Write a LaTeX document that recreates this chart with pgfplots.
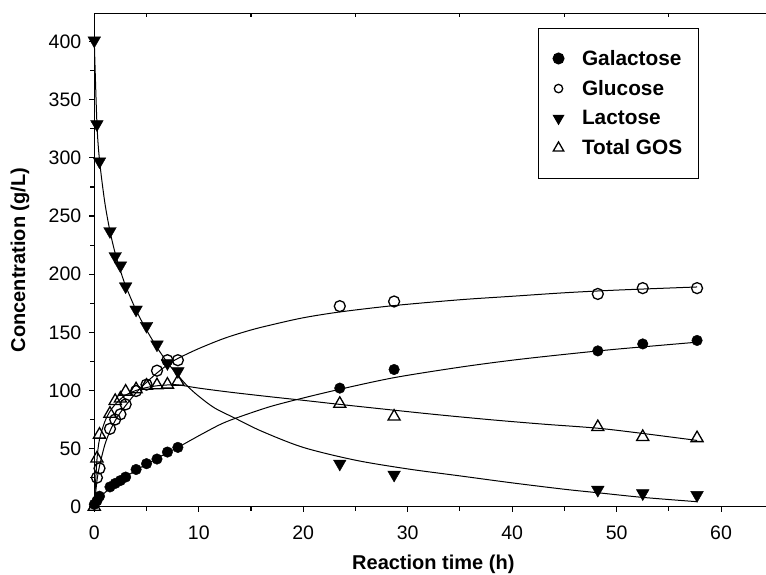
\documentclass[border=0pt]{standalone}
\usepackage{fontspec}
\setmainfont{Liberation Sans}
\usepackage{pgfplots}
\pgfplotsset{compat=1.18}
\newcommand\tickfont{\fontsize{19.5}{22}\selectfont}
\newcommand\labfont{\fontsize{20}{23}\selectfont\bfseries}
\newcommand\legfont{\fontsize{20.8}{23}\selectfont\bfseries}
\begin{document}
\begin{tikzpicture}
\begin{axis}[
  at={(94.3pt,68.3pt)}, anchor=south west,
  scale only axis, width=671.7pt, height=493.4pt,
  xmin=0, xmax=64.3, ymin=0, ymax=424.4,
  axis x line*=bottom, axis y line*=left,
  axis line style={-, line width=1.2pt, black},
  clip=false,
  xtick={0,10,...,60}, minor xtick={5,15,...,55},
  ytick={0,50,...,400}, minor ytick={25,75,...,375},
  tick align=outside, major tick length=5pt, minor tick length=4pt,
  every tick/.style={line width=1.1pt, black},
  /pgf/number format/assume math mode=true,
  tick label style={font=\tickfont},
  xticklabel style={yshift=-11pt},
  yticklabel style={xshift=-4.5pt},
  xlabel={Reaction time (h)}, ylabel={Concentration (g/L)},
  label style={font=\labfont},
  xlabel style={at={(axis description cs:0.5047,-0.1283)}, anchor=base},
  ylabel style={at={(axis description cs:-0.1106,0.5)}, anchor=center},
  legend style={at={(0.6606,0.9708)}, anchor=north west, draw=black, line width=1pt,
     font=\legfont, row sep=9.5pt, inner xsep=14.5pt, inner ysep=20pt, cells={anchor=west},
     /tikz/every odd column/.style={column sep=16pt}},
  legend cell align=left,
]
% fitted curves
\addplot[black, line width=1pt, smooth, forget plot] coordinates {
 (0,400)(0.25,330)(0.5,298)(1,262)(1.5,237)(2,218)(2.5,203)(3,190)(4,169)(5,152)(6,137)(7,124)(8,113)(9,103)(10,95)(11.5,85)(13.5,76)(16,65)(20,51)(25,40)(30,32.5)(35,26.5)(40,20.5)(45,15)(48.2,12)(52.5,8)(57.7,4.3)};
\addplot[black, line width=1pt, smooth, forget plot] coordinates {
 (0,0)(0.25,22)(0.5,35)(1,53)(1.5,65)(2,74)(2.5,81)(3,87)(4,98)(5,107)(6,115)(7,122)(8,127.5)(10,136)(12.5,145)(15,152)(17,156.5)(20,162.5)(23.5,167.5)(28.7,173)(35,178)(40,181)(45,184)(50,186.3)(57.7,189)};
\addplot[black, line width=1pt, smooth, forget plot] coordinates {
 (0,0)(0.25,4)(0.5,7.5)(1,12)(1.5,16)(2,19.5)(3,25.5)(4,31.5)(5,36.5)(6,41.5)(7,46.5)(8,51)(10,61)(12,70.5)(13.5,76)(16.8,86)(20,93.5)(23.5,101)(28.7,111)(35,120)(40,126)(45,131)(50,135.5)(57.7,141.5)};
\addplot[black, line width=1pt, smooth, forget plot] coordinates {
 (0,0)(0.25,40)(0.5,58)(1,73)(1.5,82)(2,88)(2.5,92.5)(3,96)(4,100)(5,102.5)(6,104)(7,104.7)(8,104.8)(10,102)(13,98.5)(16.8,94.6)(20,91.5)(23.5,88)(28.7,83)(33,79)(38.2,74.6)(43,71)(48.2,67.5)(52.5,63)(57.7,57)};
% data
\addplot[only marks, mark=*, mark size=5.3pt, mark options={fill=black, draw=black}, forget plot] coordinates {
 (0,2)(0.25,5)(0.5,9)(1.5,17)(2,20)(2.5,22.5)(3,25.5)(4,32)(5,37)(6,41)(7,47)(8,51)(23.5,102)(28.7,118)(48.2,134)(52.5,140)(57.7,143)};
\addplot[only marks, mark=o, mark size=5.5pt, mark options={fill=white, draw=black, line width=1.3pt}, forget plot] coordinates {
 (0.25,25)(0.5,33)(1.5,67)(2,75)(2.5,79.5)(3,88)(4,99.5)(5,105)(6,117)(7,126)(8,126)(23.5,172.5)(28.7,176.5)(48.2,183)(52.5,188)(57.7,188)};
\addplot[only marks, mark=triangle*, mark size=7.3pt, mark options={rotate=180, fill=black, draw=black}, forget plot] coordinates {
 (0,401)(0.25,329)(0.5,297)(1.5,237)(2,215.5)(2.5,207.5)(3,189.5)(4,169.5)(5,155.5)(6,139.5)(7,123.5)(8,116.5)(23.5,37)(28.7,27.5)(48.2,14.5)(52.5,11.5)(57.7,10)};
\addplot[only marks, mark=triangle, mark size=7pt, mark options={fill=white, draw=black, line width=1.3pt}, forget plot] coordinates {
 (0,0)(0.25,41.5)(0.5,62)(1.5,80)(2,91)(2.5,93)(3,99)(4,101)(5,104)(6,104.5)(7,105)(8,107.5)(23.5,88.5)(28.7,77.5)(48.2,68.5)(52.5,60)(57.7,59)};
\addlegendimage{only marks, mark=*, mark size=5.5pt, fill=black, draw=black}
\addlegendentry{Galactose}
\addlegendimage{only marks, mark=o, mark size=4.2pt, draw=black, line width=1.3pt}
\addlegendentry{Glucose}
\addlegendimage{only marks, mark=triangle*, mark size=6pt, mark options={rotate=180}, fill=black, draw=black}
\addlegendentry{Lactose}
\addlegendimage{only marks, mark=triangle, mark size=6pt, draw=black, line width=1.3pt}
\addlegendentry{Total GOS}
\end{axis}
\begin{axis}[
  at={(94.3pt,68.3pt)}, anchor=south west,
  scale only axis, width=671.7pt, height=493.4pt,
  xmin=0, xmax=64.3, ymin=0, ymax=424.4,
  axis x line*=top, axis y line=none,
  axis line style={-, line width=1.2pt, black},
  xtick={5,15,...,55}, xticklabels={}, ytick=\empty,
  tick align=inside, major tick length=3.5pt,
  every tick/.style={line width=1.1pt, black},
]
\addplot[draw=none, forget plot] coordinates {(0,0)};
\end{axis}
\pgfresetboundingbox
\path[use as bounding box] (0,0) rectangle (766pt,575pt);
\end{tikzpicture}
\end{document}
